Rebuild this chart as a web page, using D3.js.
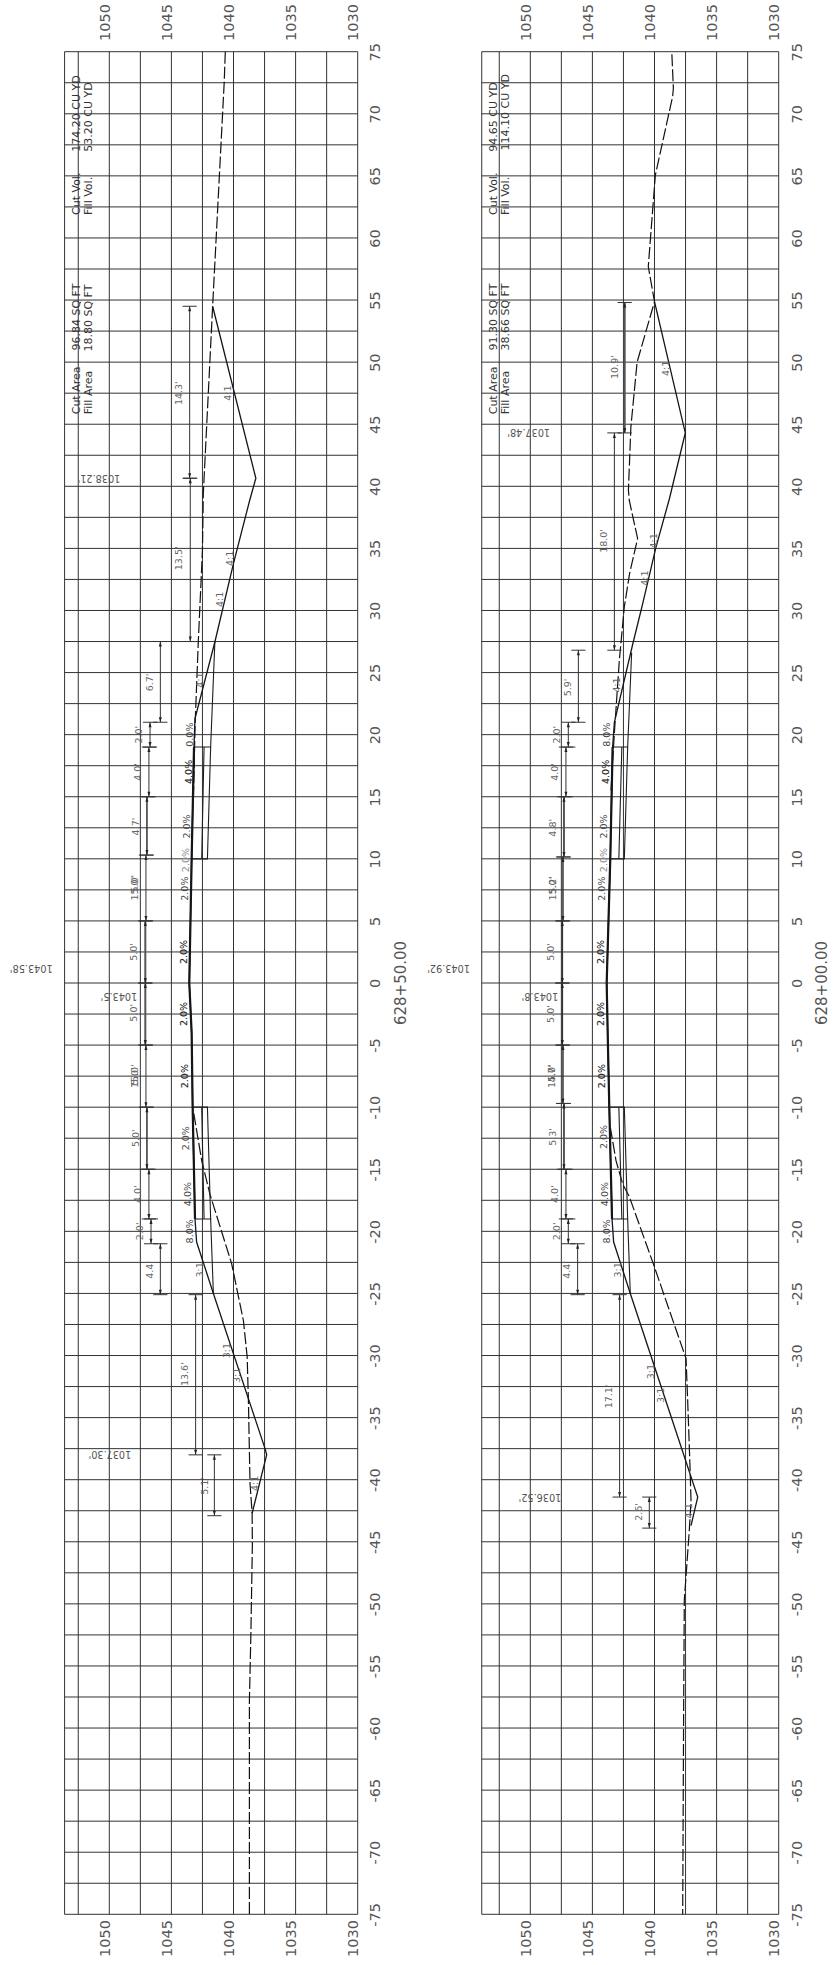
<!DOCTYPE html>
<html>
<head>
<meta charset="utf-8">
<script src="https://cdnjs.cloudflare.com/ajax/libs/d3/7.8.5/d3.min.js"></script>
<style>
html,body{margin:0;padding:0;background:#fff}
svg{display:block}
text{font-family:"DejaVu Sans",sans-serif}
</style>
</head>
<body>
<svg id="chart" width="833" height="1965"></svg>
<script>
// Tick values
const elevationTicks = [1050,1045,1040,1035,1030];
const elevationGrid = [1052.5,1050,1047.5,1045,1042.5,1040,1037.5,1035,1032.5,1030];
const offsetTicks = d3.range(-75,76,5);
const offsetGrid = d3.range(-75,75.1,2.5);

// Section 628+50.00: [offset, elevation]
const station1 = "628+50.00";
const ground1Right = [[75,1040.66],[72.5,1040.75],[54.5,1041.68],[39.44,1042.43],[34.8,1042.5],[27.6,1042.83],[20.6,1043.1],[14.7,1043.23]];
const ground1Left = [[-10.5,1043.2],[-14.3,1042.56],[-17,1041.9],[-22.6,1040.15],[-27.2,1039.2],[-30.1,1038.9],[-33.6,1038.8],[-40.3,1038.67],[-42.7,1038.5],[-45.2,1038.48],[-52.4,1038.6],[-57.8,1038.72],[-75,1038.72]];
const finish1 = [[54.5,1041.68],[40.65,1038.2],[38.86,1038.7],[33.8,1040.0],[27.46,1041.5],[21.3,1043.1],[19,1043.18],[10,1043.37],[0,1043.56],[-4,1043.37],[-10,1043.29],[-19,1043.1],[-20.86,1042.97],[-25,1041.62],[-37.5,1037.46],[-38,1037.33],[-42.7,1038.5]];
const layers1 = [
 [[27.46,1041.5],[19,1041.84],[19,1043.18]],
 [[19,1041.84],[10,1042.1],[10,1043.37]],
 [[10,1042.56],[19,1042.37]],
 [[-25,1041.62],[-19,1041.84],[-19,1043.1]],
 [[-19,1041.84],[-10,1042.1],[-10,1043.29]],
 [[-10,1042.56],[-19,1042.37]]
];
// [elevation, from offset, to offset, heavy]
const dims1 = [[1043.53,54.5,40.65,0],[1043.48,40.65,27.5,0],[1045.89,27.5,21,0],[1046.72,21,19,0],[1046.81,19,15,0],[1046.97,15,10.3,1],[1047.05,10.3,5,0],[1047.10,5,0,2],[1047.10,0,-5,2],[1047.05,-5,-10,0],[1046.97,-10,-15,1],[1046.81,-15,-19,0],[1046.64,-19,-21,0],[1045.89,-21,-25.1,0],[1043.05,-25.1,-38,0],[1041.54,-38,-42.9,0]];
const dimLabels1 = [[47.5,1044.44,"14.3'"],[34.2,1044.39,"13.5'"],[24.2,1046.72,"6.7'"],[20,1047.66,"2.0'"],[17,1047.72,"4.0'"],[12.6,1047.85,"4.7'"],[7.6,1047.93,"15.0'"],[8.0,1047.93,"5.0'"],[2.5,1048.01,"5.0'"],[-2.4,1048.01,"5.0'"],[-7.5,1047.93,"15.0'"],[-7.5,1047.93,"5.0'"],[-12.5,1047.85,"5.0'"],[-17,1047.72,"4.0'"],[-20,1047.53,"2.0'"],[-23.1,1046.78,"4.4'"],[-31.5,1043.91,"13.6'"],[-40.5,1042.35,"5.1'"]];
const gradeLabels1 = [[20,1043.56,"0.0%",0],[17,1043.64,"4.0%",1],[12.6,1043.77,"2.0%",0],[9.9,1043.83,"2.0%",2],[7.6,1043.91,"2.0%",0],[2.5,1043.99,"2.0%",1],[-2.5,1043.99,"2.0%",1],[-7.5,1043.91,"2.0%",1],[-12.5,1043.83,"2.0%",0],[-17,1043.69,"4.0%",0],[-20,1043.50,"8.0%",0]];
const slopeLabels1 = [[47.5,1040.47,"4:1"],[34.2,1040.28,"4:1"],[30.9,1041.09,"4:1"],[24.4,1042.75,"4:1"],[-23.1,1042.75,"3:1"],[-29.6,1040.55,"3:1"],[-31.6,1039.74,"3:1"],[-40.3,1038.27,"4:1"]];
const elevLabels1 = [[40.65,1050.83,"1038.21'"],[1.15,1056.28,"1043.58'"],[-1.1,1049.22,"1043.5'"],[-38,1049.95,"1037.30'"]];
const notes1 = [[45.8,1052.68,"Cut Area"],[45.8,1051.74,"Fill Area"],[50.93,1052.68,"96.84 SQ FT"],[50.85,1051.74,"18.80 SQ FT"],[61.85,1052.68,"Cut Vol."],[61.85,1051.74,"Fill Vol."],[66.95,1052.68,"174.20 CU YD"],[66.95,1051.74,"53.20 CU YD"]];

// Section 628+00.00
const station2 = "628+00.00";
const ground2Right = [[74.8,1038.6],[72.05,1038.48],[71.4,1038.54],[65.07,1039.93],[57.7,1040.5],[54.87,1040.0],[50,1041.4],[44.8,1041.9],[39.7,1042.1],[38.86,1042.03],[35.8,1041.36],[33,1042],[30.3,1042.43],[26,1042.83],[20.6,1043.2],[17.9,1043.37],[15.5,1043.5]];
const ground2Left = [[-11.6,1043.56],[-14.3,1043.1],[-16.2,1042.56],[-17.2,1042.03],[-22.6,1040.1],[-30.25,1037.46],[-33.6,1037.33],[-39,1037.14],[-41.7,1037.06],[-44.1,1037.2],[-49.7,1037.6],[-57.8,1037.65],[-75,1037.73]];
const finish2 = [[54.87,1040],[44.3,1037.52],[39,1038.8],[35.1,1039.88],[30.55,1040.95],[27.3,1041.75],[21,1043.23],[19,1043.37],[10,1043.56],[0,1043.85],[-4,1043.77],[-10,1043.64],[-19,1043.42],[-20.86,1043.29],[-25,1041.95],[-41.4,1036.52],[-43.7,1037.06]];
const layers2 = [
 [[26.6,1041.84],[19,1042.16],[19,1043.37]],
 [[19,1042.16],[10,1042.43],[10,1043.56]],
 [[10,1042.87],[19,1042.63]],
 [[-25,1041.95],[-19,1042.16],[-19,1043.42]],
 [[-19,1042.16],[-10,1042.43],[-10,1043.64]],
 [[-10,1042.87],[-19,1042.63]]
];
const dims2 = [[1042.40,54.8,44.3,2],[1043.23,44.3,26.8,0],[1046.13,26.8,21,0],[1046.94,21,19,0],[1047.13,19,15,0],[1047.29,15,10.15,2],[1047.37,10.15,5,1],[1047.42,5,0,1],[1047.42,0,-5,1],[1047.37,-5,-9.7,1],[1047.29,-9.7,-15,2],[1047.13,-15,-19,0],[1046.94,-19,-21,0],[1046.19,-21,-25.1,0],[1042.81,-25.1,-41.4,0],[1040.42,-41.4,-43.9,0]];
const dimLabels2 = [[49.6,1043.23,"10.9'"],[35.6,1044.12,"18.0'"],[23.8,1046.99,"5.9'"],[20,1047.85,"2.0'"],[17,1048.01,"4.0'"],[12.5,1048.17,"4.8'"],[7.6,1048.20,"15.0'"],[7.9,1048.20,"5.2'"],[2.5,1048.34,"5.0'"],[-2.5,1048.34,"5.0'"],[-7.5,1048.26,"15.0'"],[-7.3,1048.26,"4.7'"],[-12.4,1048.17,"5.3'"],[-17,1048.01,"4.0'"],[-20,1047.85,"2.0'"],[-23.1,1047.07,"4.4'"],[-33.3,1043.69,"17.1'"],[-42.6,1041.30,"2.6'"]];
const gradeLabels2 = [[20,1043.85,"8.0%",0],[17,1043.96,"4.0%",1],[12.6,1044.09,"2.0%",0],[9.9,1044.12,"2.0%",2],[7.6,1044.23,"2.0%",0],[2.5,1044.31,"2.0%",1],[-2.5,1044.31,"2.0%",1],[-7.5,1044.23,"2.0%",1],[-12.4,1044.12,"2.0%",0],[-17,1043.99,"4.0%",0],[-20,1043.83,"8.0%",0]];
const slopeLabels2 = [[49.5,1039.07,"4:1"],[35.6,1040.09,"4:1"],[32.6,1040.82,"4:1"],[24,1043.02,"4:1"],[-23.1,1042.97,"3:1"],[-31.3,1040.28,"3:1"],[-33.2,1039.53,"3:1"],[-42.5,1037.25,"4:1"]];
const elevLabels2 = [[44.3,1050.13,"1037.48'"],[1.15,1056.58,"1043.92'"],[-1.1,1049.22,"1043.8'"],[-41.4,1049.22,"1036.52'"]];
const notes2 = [[45.8,1052.98,"Cut Area"],[45.8,1052.04,"Fill Area"],[50.93,1052.98,"91.30 SQ FT"],[50.93,1052.04,"38.66 SQ FT"],[61.85,1052.98,"Cut Vol."],[61.85,1052.04,"Fill Vol."],[66.95,1052.98,"94.65 CU YD"],[67.05,1052.04,"114.10 CU YD"]];

const svg = d3.select("#chart");
const y = d3.scaleLinear().domain([75,-75]).range([51.7,1914.3]);
const INK = "#1e1e1e", GRID = "#333", SOFT = "#666";

function drawPanel(cfg){
  const x = d3.scaleLinear().domain([1050,1030]).range(cfg.xRange);
  const g = svg.append("g");
  const line = d3.line().x(d=>x(d[1])).y(d=>y(d[0]));
  const x0 = x(cfg.edge), x1 = x(1030);

  // grid
  g.append("g").selectAll("line").data(offsetGrid).join("line")
    .attr("x1",x0).attr("x2",x1).attr("y1",d=>y(d)).attr("y2",d=>y(d))
    .attr("stroke",GRID).attr("stroke-width",1);
  g.append("g").selectAll("line").data(elevationGrid.concat([cfg.edge])).join("line")
    .attr("x1",d=>x(d)).attr("x2",d=>x(d)).attr("y1",y(75)).attr("y2",y(-75))
    .attr("stroke",GRID).attr("stroke-width",1);

  // elevation axes (top and bottom)
  [[d3.axisTop,41],[d3.axisBottom,1957]].forEach(([ax,py])=>{
    const a = g.append("g").attr("transform",`translate(0,${py})`)
      .call(ax(x).tickValues(elevationTicks).tickSize(0).tickFormat(d=>String(d)));
    a.select(".domain").remove();
    a.selectAll("text").attr("x",0).attr("y",0).attr("dy",0)
      .attr("transform","rotate(-90)").attr("text-anchor","start")
      .attr("font-size",14.5).attr("font-family",'"DejaVu Sans"').attr("fill","#555");
  });
  // offset axis
  const oa = g.append("g").attr("transform",`translate(${cfg.tickX},0)`)
    .call(d3.axisRight(y).tickValues(offsetTicks).tickSize(0).tickFormat(d=>String(d)));
  oa.select(".domain").remove();
  oa.selectAll("text").attr("x",0).attr("y",0).attr("dy",0)
    .attr("transform","rotate(-90)").attr("text-anchor","middle")
    .attr("font-size",14.5).attr("font-family",'"DejaVu Sans"').attr("fill","#555");

  // station
  g.append("text").attr("transform",`translate(${cfg.stationX},${y(0)}) rotate(-90)`)
    .attr("text-anchor","middle").attr("font-size",15).attr("fill","#555").text(cfg.station);

  // ground
  [cfg.groundR,cfg.groundL].forEach(d=>{
    g.append("path").attr("d",line(d)).attr("fill","none")
      .attr("stroke","#111").attr("stroke-width",1.2).attr("stroke-dasharray","12 3");
  });
  // layers
  cfg.layers.forEach(d=>{
    g.append("path").attr("d",line(d)).attr("fill","none").attr("stroke",INK).attr("stroke-width",1.1);
  });
  // finished surface
  g.append("path").attr("d",line(cfg.finish)).attr("fill","none").attr("stroke","#151515").attr("stroke-width",1.3);
  g.append("path").attr("d",line(cfg.finish.filter(d=>Math.abs(d[0])<=19))).attr("fill","none").attr("stroke","#151515").attr("stroke-width",2.2);

  // dimension lines
  const tickHalf = 0.57;
  const dimG = g.append("g");
  cfg.dims.forEach(([e,a,b,heavy])=>{
    const col = heavy===2 ? "#555" : "#333";
    dimG.append("line").attr("x1",x(e)).attr("x2",x(e)).attr("y1",y(a)).attr("y2",y(b))
      .attr("stroke",col).attr("stroke-width",heavy===2?2:(heavy===1?1.5:1));
    [a,b].forEach(o=>dimG.append("line").attr("x1",x(e-tickHalf)).attr("x2",x(e+tickHalf))
      .attr("y1",y(o)).attr("y2",y(o)).attr("stroke","#333").attr("stroke-width",1));
    const dir = y(b)>y(a)?1:-1;
    [[a,dir],[b,-dir]].forEach(([o,s])=>{
      const px=x(e), py=y(o);
      dimG.append("path").attr("d",`M${px},${py}L${px-1.5},${py+s*5}L${px+1.5},${py+s*5}Z`).attr("fill","#222");
    });
  });

  // rotated labels
  const rot = (sel,size,fill)=>sel.attr("transform",d=>`translate(${x(d[1])},${y(d[0])}) rotate(-90)`)
    .attr("text-anchor","middle").attr("dy",".36em").attr("font-size",size).attr("fill",fill).text(d=>d[2]);
  rot(g.append("g").selectAll("text").data(cfg.dimLabels).join("text"),9.5,SOFT);
  rot(g.append("g").selectAll("text").data(cfg.slopeLabels).join("text"),9.5,SOFT);
  rot(g.append("g").selectAll("text").data(cfg.gradeLabels).join("text"),9.5,"#444")
    .attr("fill",d=>d[3]===1?"#222":d[3]===2?"#888":"#444")
    .attr("stroke",d=>d[3]===1?"#333":"none").attr("stroke-width",0.15);
  // upside-down elevation labels
  g.append("g").selectAll("text").data(cfg.elevLabels).join("text")
    .attr("transform",d=>`translate(${x(d[1])},${y(d[0])}) rotate(180)`)
    .attr("text-anchor","middle").attr("dy",".36em").attr("font-size",9.7).attr("fill","#555").text(d=>d[2]);
  // quantity notes
  g.append("g").selectAll("text").data(cfg.notes).join("text")
    .attr("transform",d=>`translate(${x(d[1])},${y(d[0])}) rotate(-90)`)
    .attr("text-anchor","start").attr("dy",".36em").attr("font-size",11).attr("fill","#333").text(d=>d[2]);
}

drawPanel({xRange:[109.3,357.7],edge:1053.6,tickX:380,stationX:406,station:station1,groundR:ground1Right,groundL:ground1Left,finish:finish1,layers:layers1,dims:dims1,dimLabels:dimLabels1,gradeLabels:gradeLabels1,slopeLabels:slopeLabels1,elevLabels:elevLabels1,notes:notes1});
drawPanel({xRange:[530.3,778.7],edge:1053.91,tickX:802,stationX:827,station:station2,groundR:ground2Right,groundL:ground2Left,finish:finish2,layers:layers2,dims:dims2,dimLabels:dimLabels2,gradeLabels:gradeLabels2,slopeLabels:slopeLabels2,elevLabels:elevLabels2,notes:notes2});
</script>
</body>
</html>
